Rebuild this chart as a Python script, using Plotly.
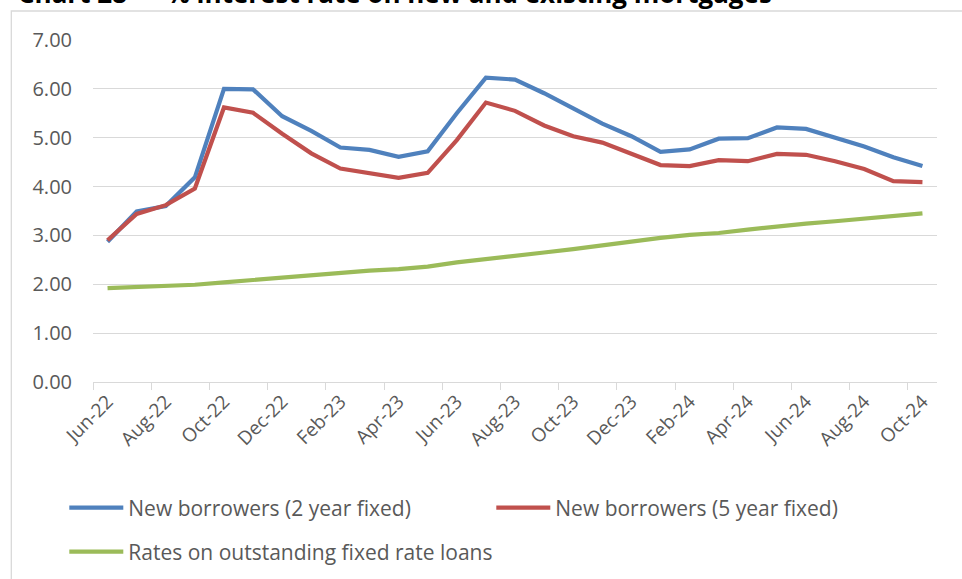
import plotly.graph_objects as go

months = ["Jun-22", "Jul-22", "Aug-22", "Sep-22", "Oct-22", "Nov-22", "Dec-22",
          "Jan-23", "Feb-23", "Mar-23", "Apr-23", "May-23", "Jun-23", "Jul-23",
          "Aug-23", "Sep-23", "Oct-23", "Nov-23", "Dec-23", "Jan-24", "Feb-24",
          "Mar-24", "Apr-24", "May-24", "Jun-24", "Jul-24", "Aug-24", "Sep-24",
          "Oct-24"]

two_year_fixed = [2.87, 3.49, 3.60, 4.19, 6.00, 5.99, 5.44, 5.14, 4.80, 4.75,
                  4.61, 4.72, 5.50, 6.23, 6.19, 5.91, 5.60, 5.29, 5.03, 4.71,
                  4.76, 4.98, 4.99, 5.21, 5.18, 5.01, 4.82, 4.60, 4.42]

five_year_fixed = [2.90, 3.44, 3.62, 3.96, 5.62, 5.51, 5.08, 4.68, 4.37, 4.28,
                   4.18, 4.28, 4.95, 5.72, 5.55, 5.25, 5.03, 4.90, 4.68, 4.44,
                   4.42, 4.54, 4.52, 4.67, 4.65, 4.52, 4.36, 4.11, 4.09]

outstanding_fixed = [1.92, 1.94, 1.96, 1.99, 2.04, 2.09, 2.15, 2.18, 2.23, 2.28,
                     2.31, 2.36, 2.45, 2.51, 2.57, 2.65, 2.72, 2.80, 2.88, 2.95,
                     3.01, 3.05, 3.12, 3.19, 3.24, 3.29, 3.35, 3.40, 3.45]

series_names = ["New borrowers (2 year fixed)",
                "New borrowers (5 year fixed)",
                "Rates on outstanding fixed rate loans"]
series_colors = ["#4F81BD", "#C0504D", "#9BBB59"]

title_text = "Chart 28 — % interest rate on new and existing mortgages"

FONT = "Open Sans"
TXT = "#595959"
GRID = "#D9D9D9"

fig = go.Figure()
for vals, name, col, lg in zip([two_year_fixed, five_year_fixed, outstanding_fixed],
                               series_names, series_colors,
                               ["legend", "legend", "legend2"]):
    fig.add_trace(go.Scatter(x=months, y=vals, name=name, mode="lines",
                             line=dict(color=col, width=4.2), legend=lg))

W, H = 962, 579
L, R, T, B = 92.7, 25.3, 40, 197
pw, ph = W - L - R, H - T - B

def px_x(x):
    return (x - L) / pw

def px_y(y):
    return (H - B - y) / ph

fig.update_layout(
    width=W, height=H,
    margin=dict(l=L, r=R, t=T, b=B, pad=0, autoexpand=False),
    paper_bgcolor="white", plot_bgcolor="white",
    font=dict(family=FONT, color=TXT, size=20),
    showlegend=True,
    legend=dict(orientation="h", x=px_x(64), xanchor="left",
                y=px_y(508), yanchor="middle",
                itemwidth=54, entrywidth=358, entrywidthmode="pixels",
                font=dict(family=FONT, size=21, color=TXT),
                bgcolor="rgba(0,0,0,0)", borderwidth=0,
                traceorder="normal"),
    legend2=dict(orientation="h", x=px_x(64), xanchor="left",
                 y=px_y(552), yanchor="middle",
                 itemwidth=54,
                 font=dict(family=FONT, size=21, color=TXT),
                 bgcolor="rgba(0,0,0,0)", borderwidth=0),
    xaxis=dict(type="category", range=[-0.5, len(months) - 0.5],
               tickmode="linear", tick0=0, dtick=2,
               tickson="boundaries", ticks="outside", ticklen=7,
               tickcolor=GRID, tickwidth=1.3,
               showline=True, linecolor=GRID, linewidth=1.3,
               showgrid=False, tickangle=-45,
               tickfont=dict(family=FONT, size=19, color=TXT)),
    yaxis=dict(range=[0, 7], tickmode="linear", tick0=0, dtick=1,
               tickformat=".2f", showgrid=True, gridcolor=GRID, gridwidth=1.3,
               zeroline=False, showline=False, ticks="",
               ticklabelstandoff=20,
               tickfont=dict(family=FONT, size=20, color=TXT)),
)

fig.add_shape(type="rect", xref="paper", yref="paper",
              x0=px_x(11), x1=px_x(975), y0=px_y(590), y1=px_y(11),
              line=dict(color=GRID, width=1.3), layer="below")

fig.add_annotation(text="<b>" + title_text + "</b>", xref="paper", yref="paper",
                   x=px_x(16), y=px_y(13.5), xanchor="left", yanchor="bottom",
                   showarrow=False,
                   font=dict(family=FONT, size=26, color="black"))

fig.write_html("out.html",
               config={"displayModeBar": False},
               post_script="document.body.style.margin='0px';")
